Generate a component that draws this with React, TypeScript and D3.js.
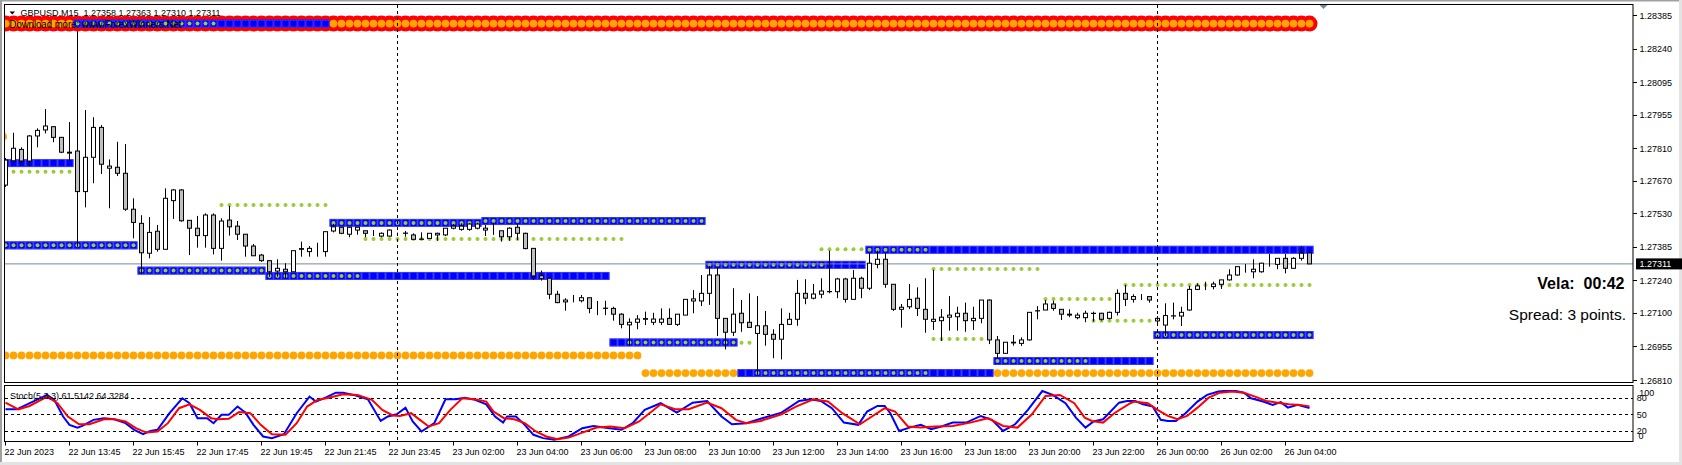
import React from 'react';
import * as d3 from 'd3';

const W = 1682;
const H = 465;

const headerText = 'GBPUSD,M15  1.27358 1.27363 1.27310 1.27311';
const watermark = 'Download more: www.ForexWinners.Net';
const stochTitle = 'Stoch(5,3,3) 61.5142 64.3284';
const velaText = 'Vela:  00:42';
const spreadText = 'Spread: 3 points.';
const bidPrice = 1.27311;

const opens = [
  1.27651, 1.27756, 1.27805, 1.27755, 1.27863, 1.27889, 1.27903, 1.27857, 1.27793, 1.27798,
  1.27623, 1.27771, 1.27900, 1.27724, 1.27728, 1.27702, 1.27547, 1.27486, 1.27357, 1.27452,
  1.27374, 1.27584, 1.27630, 1.27499, 1.27465, 1.27433, 1.27522, 1.27378, 1.27500, 1.27474,
  1.27439, 1.27388, 1.27349, 1.27325, 1.27280, 1.27288, 1.27277, 1.27377, 1.27364, 1.27365,
  1.27364, 1.27453, 1.27469, 1.27439, 1.27457, 1.27454, 1.27446, 1.27431, 1.27431, 1.27443,
  1.27444, 1.27436, 1.27418, 1.27421, 1.27436, 1.27436, 1.27465, 1.27460, 1.27460, 1.27465,
  1.27457, 1.27447, 1.27454, 1.27428, 1.27469, 1.27443, 1.27378, 1.27249, 1.27249, 1.27180,
  1.27147, 1.27155, 1.27152, 1.27165, 1.27119, 1.27119, 1.27119, 1.27094, 1.27048, 1.27059,
  1.27072, 1.27059, 1.27059, 1.27076, 1.27050, 1.27090, 1.27151, 1.27151, 1.27184, 1.27263,
  1.27076, 1.27016, 1.27098, 1.27059, 1.27011, 1.27044, 1.27007, 1.26986, 1.27050, 1.27072,
  1.27184, 1.27163, 1.27180, 1.27191, 1.27191, 1.27246, 1.27158, 1.27249, 1.27206, 1.27309,
  1.27331, 1.27223, 1.27115, 1.27126, 1.27163, 1.27115, 1.27063, 1.27066, 1.27081, 1.27083,
  1.27098, 1.27066, 1.27076, 1.27155, 1.26983, 1.26925, 1.26970, 1.26968, 1.26983, 1.27108,
  1.27112, 1.27138, 1.27115, 1.27094, 1.27079, 1.27079, 1.27098, 1.27098, 1.27076, 1.27102,
  1.27184, 1.27158, 1.27170, 1.27170, 1.27065, 1.27047, 1.27086, 1.27086, 1.27112, 1.27201,
  1.27216, 1.27213, 1.27223, 1.27242, 1.27263, 1.27289, 1.27277, 1.27277, 1.27314, 1.27309,
  1.27335, 1.27292, 1.27335, 1.27358,
];
const highs = [
  1.27768, 1.27877, 1.27814, 1.27867, 1.27896, 1.27979, 1.27906, 1.27859, 1.27923, 1.28329,
  1.27975, 1.27944, 1.27910, 1.27762, 1.27838, 1.27828, 1.27594, 1.27521, 1.27513, 1.27479,
  1.27637, 1.27634, 1.27634, 1.27499, 1.27518, 1.27529, 1.27529, 1.27508, 1.27561, 1.27496,
  1.27439, 1.27397, 1.27354, 1.27325, 1.27331, 1.27314, 1.27368, 1.27407, 1.27388, 1.27402,
  1.27450, 1.27483, 1.27471, 1.27471, 1.27471, 1.27454, 1.27457, 1.27447, 1.27460, 1.27446,
  1.27453, 1.27443, 1.27447, 1.27443, 1.27446, 1.27465, 1.27483, 1.27486, 1.27486, 1.27489,
  1.27479, 1.27489, 1.27454, 1.27469, 1.27483, 1.27446, 1.27378, 1.27282, 1.27249, 1.27195,
  1.27163, 1.27177, 1.27177, 1.27165, 1.27151, 1.27152, 1.27126, 1.27098, 1.27076, 1.27090,
  1.27105, 1.27100, 1.27119, 1.27119, 1.27094, 1.27158, 1.27198, 1.27263, 1.27302, 1.27299,
  1.27076, 1.27206, 1.27155, 1.27184, 1.27172, 1.27108, 1.27029, 1.27119, 1.27100, 1.27242,
  1.27245, 1.27224, 1.27249, 1.27368, 1.27251, 1.27251, 1.27285, 1.27256, 1.27359, 1.27368,
  1.27359, 1.27223, 1.27138, 1.27224, 1.27210, 1.27249, 1.27285, 1.27116, 1.27172, 1.27126,
  1.27144, 1.27126, 1.27155, 1.27158, 1.27000, 1.26973, 1.27004, 1.26994, 1.27102, 1.27129,
  1.27155, 1.27152, 1.27115, 1.27115, 1.27100, 1.27109, 1.27105, 1.27100, 1.27105, 1.27201,
  1.27220, 1.27180, 1.27181, 1.27170, 1.27086, 1.27141, 1.27144, 1.27126, 1.27216, 1.27227,
  1.27234, 1.27234, 1.27242, 1.27288, 1.27299, 1.27311, 1.27331, 1.27316, 1.27354, 1.27335,
  1.27354, 1.27340, 1.27388, 1.27363,
];
const lows = [
  1.27643, 1.27748, 1.27742, 1.27733, 1.27814, 1.27874, 1.27836, 1.27789, 1.27759, 1.27385,
  1.27555, 1.27659, 1.27699, 1.27551, 1.27690, 1.27540, 1.27421, 1.27267, 1.27335, 1.27364,
  1.27374, 1.27505, 1.27493, 1.27349, 1.27381, 1.27381, 1.27352, 1.27325, 1.27433, 1.27414,
  1.27342, 1.27345, 1.27320, 1.27256, 1.27256, 1.27249, 1.27277, 1.27342, 1.27342, 1.27342,
  1.27342, 1.27447, 1.27439, 1.27426, 1.27437, 1.27426, 1.27431, 1.27426, 1.27428, 1.27439,
  1.27428, 1.27417, 1.27417, 1.27421, 1.27411, 1.27431, 1.27460, 1.27454, 1.27454, 1.27460,
  1.27431, 1.27436, 1.27407, 1.27411, 1.27414, 1.27374, 1.27242, 1.27239, 1.27159, 1.27141,
  1.27109, 1.27145, 1.27145, 1.27098, 1.27090, 1.27090, 1.27066, 1.27033, 1.26958, 1.27029,
  1.27047, 1.27047, 1.27047, 1.27050, 1.27043, 1.27090, 1.27098, 1.27129, 1.27134, 1.27000,
  1.26942, 1.27000, 1.27018, 1.27037, 1.26832, 1.26958, 1.26904, 1.26899, 1.27047, 1.27044,
  1.27137, 1.27158, 1.27163, 1.27184, 1.27163, 1.27144, 1.27158, 1.27163, 1.27198, 1.27292,
  1.27208, 1.27108, 1.27036, 1.27116, 1.27086, 1.27014, 1.27026, 1.26978, 1.27023, 1.27023,
  1.27018, 1.27026, 1.27055, 1.26965, 1.26904, 1.26925, 1.26958, 1.26957, 1.26980, 1.27072,
  1.27112, 1.27109, 1.27069, 1.27081, 1.27072, 1.27059, 1.27062, 1.27066, 1.27072, 1.27088,
  1.27129, 1.27144, 1.27155, 1.27144, 1.27055, 1.27000, 1.27072, 1.27043, 1.27109, 1.27198,
  1.27198, 1.27201, 1.27203, 1.27239, 1.27260, 1.27273, 1.27249, 1.27273, 1.27299, 1.27288,
  1.27270, 1.27292, 1.27325, 1.27310,
];
const closes = [
  1.27759, 1.27810, 1.27755, 1.27863, 1.27887, 1.27906, 1.27857, 1.27793, 1.27789, 1.27623,
  1.27771, 1.27900, 1.27741, 1.27733, 1.27702, 1.27547, 1.27490, 1.27359, 1.27447, 1.27374,
  1.27594, 1.27630, 1.27497, 1.27465, 1.27433, 1.27522, 1.27378, 1.27496, 1.27471, 1.27439,
  1.27388, 1.27346, 1.27325, 1.27277, 1.27292, 1.27277, 1.27368, 1.27374, 1.27378, 1.27365,
  1.27450, 1.27471, 1.27443, 1.27469, 1.27469, 1.27443, 1.27446, 1.27443, 1.27457, 1.27443,
  1.27443, 1.27417, 1.27417, 1.27443, 1.27443, 1.27465, 1.27474, 1.27474, 1.27483, 1.27483,
  1.27465, 1.27447, 1.27428, 1.27465, 1.27443, 1.27377, 1.27259, 1.27259, 1.27180, 1.27144,
  1.27155, 1.27155, 1.27165, 1.27119, 1.27119, 1.27120, 1.27094, 1.27050, 1.27059, 1.27073,
  1.27075, 1.27073, 1.27073, 1.27050, 1.27094, 1.27158, 1.27160, 1.27184, 1.27263, 1.27076,
  1.27016, 1.27094, 1.27057, 1.27037, 1.27044, 1.27007, 1.26986, 1.27050, 1.27072, 1.27184,
  1.27163, 1.27181, 1.27194, 1.27192, 1.27246, 1.27158, 1.27249, 1.27206, 1.27314, 1.27331,
  1.27223, 1.27115, 1.27124, 1.27158, 1.27119, 1.27072, 1.27072, 1.27081, 1.27090, 1.27098,
  1.27066, 1.27076, 1.27155, 1.26983, 1.26925, 1.26973, 1.26973, 1.26983, 1.27102, 1.27109,
  1.27138, 1.27119, 1.27094, 1.27090, 1.27090, 1.27098, 1.27097, 1.27072, 1.27102, 1.27184,
  1.27158, 1.27170, 1.27170, 1.27155, 1.27076, 1.27088, 1.27087, 1.27102, 1.27201, 1.27216,
  1.27216, 1.27224, 1.27242, 1.27263, 1.27299, 1.27289, 1.27288, 1.27314, 1.27314, 1.27335,
  1.27292, 1.27335, 1.27357, 1.27311,
];

// blue square level rows: [price, firstBar, lastBar, firstDotBar, lastDotBar]
const squareRows: number[][] = [
  [1.27746, 0, 8, -1, -1],
  [1.27391, 0, 16, 0, 16],
  [1.27282, 17, 32, 17, 32],
  [1.27259, 33, 75, 33, 44],
  [1.27488, 41, 59, 41, 59],
  [1.27496, 60, 87, 60, 87],
  [1.27307, 88, 107, 88, 102],
  [1.27372, 108, 163, 108, 115],
  [1.26972, 76, 91, 78, 91],
  [1.26840, 92, 123, 94, 115],
  [1.26892, 124, 143, 124, 135],
  [1.27004, 144, 163, 144, 163],
];
// green dotted rows: [price, firstBar, lastBar]
const greenRows: number[][] = [
  [1.27709, 1, 8],
  [1.27565, 27, 40],
  [1.27418, 45, 77],
  [1.26971, 92, 93],
  [1.27374, 102, 107],
  [1.27289, 116, 129],
  [1.26987, 116, 122],
  [1.27159, 130, 138],
  [1.27066, 136, 143],
  [1.27220, 140, 163],
];
// orange dotted rows: [price, firstBar, lastBar]
const orangeRows: number[][] = [
  [1.26916, 0, 79],
  [1.26840, 80, 91],
  [1.26840, 124, 163],
];
const edgeOrangeDot = { bar: -0.3, price: 1.2786 };

// top band
const bandPrice = 1.28348;
const bandOrange: number[][] = [[0, 8], [41, 163]];
const bandBlue = [9, 40];
const bandBlueDots = [9, 26];

const priceTicks = [1.28385, 1.2824, 1.28095, 1.27955, 1.2781, 1.2767, 1.2753, 1.27385, 1.2724, 1.271, 1.26955, 1.2681];

const timeLabels = [
  '22 Jun 2023', '22 Jun 13:45', '22 Jun 15:45', '22 Jun 17:45', '22 Jun 19:45', '22 Jun 21:45',
  '22 Jun 23:45', '23 Jun 02:00', '23 Jun 04:00', '23 Jun 06:00', '23 Jun 08:00', '23 Jun 10:00',
  '23 Jun 12:00', '23 Jun 14:00', '23 Jun 16:00', '23 Jun 18:00', '23 Jun 20:00', '23 Jun 22:00',
  '26 Jun 00:00', '26 Jun 02:00', '26 Jun 04:00',
];
const timeLabelBars = timeLabels.map((_, i) => i * 8);
const separatorBars = [49, 144];

const stochLevels = [80, 50, 20];
const stochAxisLabels = ['100', '80', '50', '20', '0'];

// stochastic curves: [bar, value]
const stochK: [number, number][] = [
  [0, 59], [1.4, 59], [5.2, 85], [6.1, 76], [7.2, 46], [8, 31], [9, 26], [9.6, 29], [11, 40], [12.3, 43],
  [13.6, 41], [15, 34], [16.1, 22], [17.2, 14], [18.1, 20], [19, 22], [20.5, 52], [22.1, 79], [23, 70], [24, 43],
  [25.2, 43], [26, 34], [27, 49], [27.9, 49], [29, 64], [30, 53], [31, 31], [32.2, 10], [33.3, 7], [34.8, 14],
  [36.4, 52], [38, 82], [38.8, 73], [40, 80], [41.3, 89], [42.2, 89], [43.5, 85], [45.3, 77], [46.9, 38], [47.8, 46],
  [48.9, 50], [50, 62], [50.9, 37], [52, 19], [53.6, 34], [55, 77], [56.3, 77], [57.4, 80], [58.7, 76], [60.1, 68],
  [61.2, 46], [62.2, 35], [62.7, 46], [63.8, 46], [64.9, 31], [66, 13], [67.2, 7], [68.6, 4], [70.4, 10], [72.1, 25],
  [73.5, 29], [74.8, 26], [77, 22], [78.4, 34], [79.9, 58], [81.9, 70], [83.9, 53], [85.9, 71], [87.7, 74], [89.5, 46],
  [90.8, 32], [92.6, 34], [94.6, 43], [97, 53], [99.2, 74], [100.6, 77], [101.9, 74], [103.3, 61], [104.8, 35], [106.6, 31],
  [107.7, 55], [109, 65], [109.9, 65], [110.6, 52], [111.7, 20], [113, 26], [114.4, 31], [115.7, 23], [117, 28], [118.4, 35],
  [120.1, 35], [121.9, 47], [123.3, 40], [124.7, 20], [126.2, 32], [127.8, 58], [129.6, 92], [130.9, 85], [132.5, 70], [133.8, 44],
  [135, 26], [136, 37], [137.2, 41], [139.2, 71], [140.2, 74], [141.2, 74], [142.2, 68], [143.4, 64], [144.4, 40], [145.3, 38],
  [146.3, 38], [147.5, 52], [149, 73], [150.2, 85], [151.6, 91], [152.3, 92], [153.8, 92], [154.8, 89], [155.7, 79], [157.2, 73],
  [158.4, 67], [159.4, 72], [160.3, 62], [161.5, 67], [163, 61.5],
];
const stochD: [number, number][] = [
  [0, 71], [1.6, 59], [3, 65], [5.2, 82], [6.5, 70], [7.8, 46], [9.2, 32], [10.5, 32], [12.3, 41], [13.6, 41],
  [15, 37], [16.3, 25], [17.6, 17], [19, 19], [20.3, 34], [21.7, 61], [23, 68], [24.3, 58], [25.7, 43], [26.6, 41],
  [27.9, 42], [29.2, 54], [30.6, 52], [31.9, 31], [33.3, 14], [35, 13], [36.4, 34], [37.7, 64], [39, 76], [40.4, 80],
  [42.2, 86], [44, 85], [45.8, 76], [47.1, 58], [48.4, 48], [49.3, 47], [50.7, 52], [51.8, 40], [52.9, 28], [54.2, 34],
  [55.6, 58], [57.1, 79], [58.7, 77], [60.1, 73], [61, 55], [62.3, 43], [63.6, 41], [64.9, 34], [66.3, 19], [67.6, 10],
  [69, 5], [70.4, 8], [72.1, 17], [73.9, 26], [75.6, 28], [77.4, 25], [79.2, 37], [81.9, 68], [83.7, 59], [85.4, 59],
  [87.7, 71], [89.5, 61], [91.3, 40], [92.6, 34], [94.4, 38], [97, 50], [98.8, 64], [101, 77], [102.8, 73], [104.6, 52],
  [106.8, 32], [108.3, 46], [109.9, 61], [111.2, 55], [112.8, 28], [114.4, 26], [116.2, 28], [118.4, 29], [120.6, 35], [122.8, 43],
  [124.7, 29], [126.5, 26], [128.3, 50], [130, 83], [131.8, 85], [133.6, 70], [134.9, 44], [135.8, 38], [137.2, 35], [138.6, 52],
  [140.6, 70], [141.1, 73], [142.8, 70], [144, 58], [145.3, 47], [146.5, 41], [147.7, 47], [149, 62], [150.4, 80], [151.8, 89],
  [153.3, 91], [154.8, 89], [156.2, 82], [157.6, 74], [159, 71], [160.4, 68], [161.8, 67], [163, 64.3],
];

const FONT = '"Liberation Sans", Arial, sans-serif';

export default function App() {
  const plotL = 4.5;
  const plotR = 1633;
  const mainT = 4.5;
  const mainB = 382.5;
  const stT = 385.5;
  const stB = 441.5;

  const x = d3.scaleLinear().domain([0, 163]).range([5.5, 5.5 + 8 * 163]);
  const y = d3.scaleLinear().domain([1.2681, 1.28385]).range([380, 15]);
  const ys = d3.scaleLinear().domain([0, 100]).range([442, 386.6]);

  const bars = d3.range(opens.length);
  const line = d3.line<[number, number]>().x((d) => x(d[0])).y((d) => ys(d[1]));

  const range = (a: number, b: number) => d3.range(a, b + 1);
  const bidY = y(bidPrice);

  return (
    <svg width={W} height={H} style={{ position: 'absolute', left: 0, top: 0, background: '#fff' }}
      fontFamily={FONT}>
      <defs>
        <clipPath id="mainClip"><rect x={5} y={5} width={plotR - 5} height={mainB - 5} /></clipPath>
        <clipPath id="stClip"><rect x={5} y={stT + 0.5} width={plotR - 5} height={stB - stT - 1} /></clipPath>
      </defs>
      <rect x={0} y={0} width={W} height={H} fill="#fff" />
      <rect x={0} y={0} width={W} height={1.5} fill="#a0a0a0" />
      <rect x={0} y={0} width={2} height={H} fill="#a0a0a0" />
      <rect x={W - 3} y={0} width={3} height={H} fill="#e3e3e3" />
      <rect x={0} y={H - 3} width={W} height={3} fill="#e3e3e3" />

      <g clipPath="url(#mainClip)">
        {/* orange rows */}
        {orangeRows.map((r, k) => range(r[1], r[2]).map((b) => (
          <circle key={`o${k}-${b}`} cx={x(b)} cy={y(r[0])} r={3.9} fill="#ffa500" />
        )))}
        <circle cx={x(edgeOrangeDot.bar)} cy={y(edgeOrangeDot.price)} r={3.9} fill="#ffa500" />
        {/* blue square rows */}
        {squareRows.map((r, k) => range(r[1], r[2]).map((b) => (
          <g key={`s${k}-${b}`}>
            <rect x={x(b) - 4} y={y(r[0]) - 4} width={8} height={8} fill="#0000ff" />
            <rect x={x(b) - 3.5} y={y(r[0]) - 3.5} width={7} height={7} fill="none" stroke="#5555ff" strokeWidth={0.6} />
            {b >= r[3] && b <= r[4] && r[3] >= 0 ? (
              <circle cx={x(b)} cy={y(r[0])} r={2} fill="#9acd32" />
            ) : null}
          </g>
        )))}
        {/* green dotted rows */}
        {greenRows.map((r, k) => range(r[1], r[2]).map((b) => (
          <circle key={`g${k}-${b}`} cx={x(b)} cy={y(r[0])} r={2} fill="#9acd32" />
        )))}

        <line x1={5} x2={plotR} y1={bidY} y2={bidY} stroke="#778899" strokeWidth={1} />

        {/* candles */}
        {bars.map((i) => {
          const cx = x(i);
          const o = opens[i], c = closes[i];
          const top = y(Math.max(o, c));
          const bot = y(Math.min(o, c));
          const bull = c >= o;
          return (
            <g key={`c${i}`}>
              <line x1={cx} x2={cx} y1={y(highs[i])} y2={y(lows[i])} stroke="#000" strokeWidth={1} />
              <rect x={cx - 2} y={top} width={4} height={Math.max(bot - top, 0)}
                fill={bull ? '#ffffff' : '#c0c0c0'} stroke="#000" strokeWidth={1} />
            </g>
          );
        })}

        {/* top band */}
        {bars.map((b) => (
          <circle key={`rb${b}`} cx={x(b)} cy={y(bandPrice)} r={8} fill="#ff0000" />
        ))}
        {bandOrange.map((r, k) => range(r[0], r[1]).map((b) => (
          <circle key={`bo${k}-${b}`} cx={x(b)} cy={y(bandPrice)} r={3.9} fill="#ffa500" />
        )))}
        {range(bandBlue[0], bandBlue[1]).map((b) => (
          <g key={`bb${b}`}>
            <rect x={x(b) - 4} y={y(bandPrice) - 4} width={8} height={8} fill="#0000ff" />
            <rect x={x(b) - 3.5} y={y(bandPrice) - 3.5} width={7} height={7} fill="none" stroke="#5555ff" strokeWidth={0.6} />
            {b >= bandBlueDots[0] && b <= bandBlueDots[1] ? (
              <circle cx={x(b)} cy={y(bandPrice)} r={2} fill="#9acd32" />
            ) : null}
          </g>
        ))}
        <text x={9.5} y={28.3} fontSize={10} fill="#000" textLength={172} lengthAdjust="spacingAndGlyphs">{watermark}</text>
      </g>

      {/* separators */}
      {separatorBars.map((b) => (
        <line key={`sep${b}`} x1={x(b)} x2={x(b)} y1={5} y2={stB} stroke="#000" strokeDasharray="3,3" strokeWidth={1} />
      ))}

      {/* header */}
      <path d="M9.5,11.5 L15,11.5 L12.25,14.5 Z" fill="#000" />
      <text x={20.5} y={16} fontSize={9} fill="#000" style={{ whiteSpace: 'pre' }}>{headerText}</text>

      {/* chart shift marker */}
      <path d="M1319,4.5 L1328,4.5 L1323.5,9 Z" fill="#778899" />

      {/* vela / spread */}
      <text x={1624.5} y={289} fontSize={16} fontWeight="bold" textAnchor="end" fill="#000" style={{ whiteSpace: 'pre' }}>{velaText}</text>
      <text x={1626} y={320} fontSize={15.5} textAnchor="end" fill="#000">{spreadText}</text>

      {/* frames */}
      <rect x={plotL} y={mainT} width={plotR - plotL} height={mainB - mainT} fill="none" stroke="#000" strokeWidth={1} />
      <rect x={plotL} y={stT} width={plotR - plotL} height={stB - stT} fill="none" stroke="#000" strokeWidth={1} />

      {/* price axis */}
      {priceTicks.map((p) => (
        <g key={`pt${p}`}>
          <line x1={plotR} x2={plotR + 4} y1={Math.round(y(p)) + 0.5} y2={Math.round(y(p)) + 0.5} stroke="#000" />
          <text x={1639.5} y={y(p) + 3.5} fontSize={9} fill="#000">{p.toFixed(5)}</text>
        </g>
      ))}
      <rect x={1636} y={bidY - 5.5} width={46} height={11} fill="#000" />
      <text x={1639.5} y={bidY + 3.5} fontSize={9} fill="#fff">{bidPrice.toFixed(5)}</text>

      {/* stochastic panel */}
      {stochLevels.map((v) => (
        <line key={`lv${v}`} x1={5} x2={plotR} y1={Math.round(ys(v)) + 0.5} y2={Math.round(ys(v)) + 0.5}
          stroke="#000" strokeDasharray="3,3" strokeWidth={1} />
      ))}
      <g clipPath="url(#stClip)">
        <path d={line(stochK) || ''} fill="none" stroke="#0000ff" strokeWidth={2} />
        <path d={line(stochD) || ''} fill="none" stroke="#ff0000" strokeWidth={2} />
      </g>
      <text x={10} y={398.5} fontSize={9} fill="#000">{stochTitle}</text>
      {stochAxisLabels.map((lab) => {
        const v = +lab;
        const base = Math.min(Math.max(ys(v) + 3.5, 395.7), 439.2);
        const xx = v === 100 ? 1639.3 : v === 0 ? 1638.5 : 1636.8;
        return <text key={`sl${lab}`} x={xx} y={base} fontSize={9} fill="#000">{lab}</text>;
      })}

      {/* time axis */}
      {timeLabels.map((t, i) => (
        <g key={`tl${i}`}>
          <line x1={x(timeLabelBars[i])} x2={x(timeLabelBars[i])} y1={stB} y2={stB + 4} stroke="#000" />
          <text x={x(timeLabelBars[i]) - 1} y={455} fontSize={9} fill="#000">{t}</text>
        </g>
      ))}
    </svg>
  );
}
